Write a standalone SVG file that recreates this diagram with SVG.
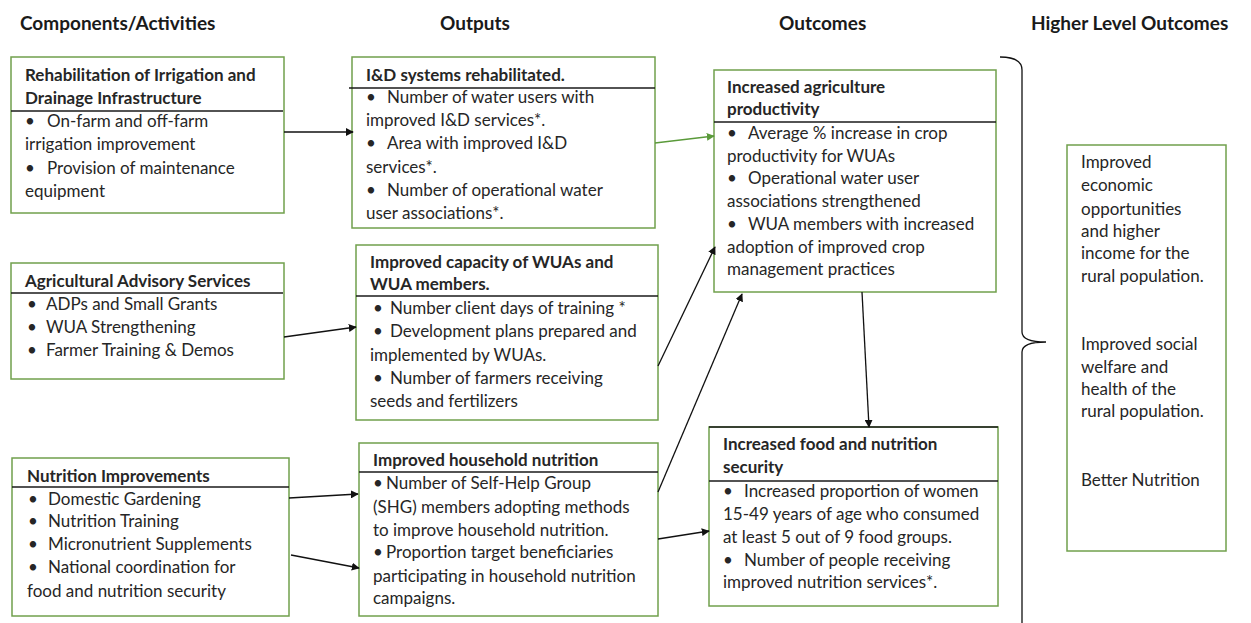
<svg xmlns="http://www.w3.org/2000/svg" width="1251" height="623" viewBox="0 0 1251 623">
<defs>
<style>
text{font-family:Lato,"Liberation Sans",sans-serif;font-size:17px;fill:#262626}
.h{font-weight:bold;font-size:19px;fill:#1a1a1a}
.b{font-weight:bold}
.box{fill:#fff;stroke:#70a04c;stroke-width:1.5}
.sep{stroke:#1a1a1a;stroke-width:1.3}
.c{stroke:#111;stroke-width:1.3;fill:none;marker-end:url(#ah)}
.g{stroke:#5a9a3a;stroke-width:1.3;fill:none;marker-end:url(#ahg)}
</style>
<marker id="ah" viewBox="0 0 10 10" refX="9" refY="5" markerWidth="8" markerHeight="8" markerUnits="userSpaceOnUse" orient="auto"><path d="M0,0 L10,5 L0,10 z" fill="#111"/></marker>
<marker id="ahg" viewBox="0 0 10 10" refX="9" refY="5" markerWidth="8" markerHeight="8" markerUnits="userSpaceOnUse" orient="auto"><path d="M0,0 L10,5 L0,10 z" fill="#5a9a3a"/></marker>
</defs>
<rect width="1251" height="623" fill="#fff"/>
<g id="headers">
<text class="h" x="20" y="30">Components/Activities</text>
<text class="h" x="440" y="30">Outputs</text>
<text class="h" x="779" y="30">Outcomes</text>
<text class="h" x="1031" y="30">Higher Level Outcomes</text>
</g>
<g id="a1">
<rect class="box" x="11" y="57" width="273" height="156"/>
<line class="sep" x1="11" y1="111" x2="283" y2="111"/>
<text class="b" x="25" y="81">Rehabilitation of Irrigation and</text>
<text class="b" x="25" y="104">Drainage Infrastructure</text>
<text x="25" y="127">•<tspan x="47">On-farm and off-farm</tspan></text>
<text x="25" y="150">irrigation improvement</text>
<text x="25" y="174">•<tspan x="47">Provision of maintenance</tspan></text>
<text x="25" y="197">equipment</text>
</g>
<g id="a2">
<rect class="box" x="11" y="263" width="273" height="116"/>
<line class="sep" x1="11" y1="293" x2="283" y2="293"/>
<text class="b" x="25" y="287">Agricultural Advisory Services</text>
<text x="27" y="310">•<tspan x="46">ADPs and Small Grants</tspan></text>
<text x="27" y="333">•<tspan x="46">WUA Strengthening</tspan></text>
<text x="27" y="356">•<tspan x="46">Farmer Training &amp; Demos</tspan></text>
</g>
<g id="a3">
<rect class="box" x="12" y="458" width="277" height="158"/>
<line class="sep" x1="12" y1="487" x2="289" y2="487"/>
<text class="b" x="27" y="482">Nutrition Improvements</text>
<text x="28" y="505">•<tspan x="48">Domestic Gardening</tspan></text>
<text x="28" y="527">•<tspan x="48">Nutrition Training</tspan></text>
<text x="28" y="550">•<tspan x="48">Micronutrient Supplements</tspan></text>
<text x="28" y="573">•<tspan x="48">National coordination for</tspan></text>
<text x="27" y="597">food and nutrition security</text>
</g>
<g id="o1">
<rect class="box" x="352" y="57" width="303" height="171"/>
<line class="sep" x1="349" y1="88" x2="655" y2="88"/>
<text class="b" x="366" y="81">I&amp;D systems rehabilitated.</text>
<text x="366" y="103">•<tspan x="387">Number of water users with</tspan></text>
<text x="366" y="126">improved I&amp;D services*.</text>
<text x="366" y="149">•<tspan x="387">Area with improved I&amp;D</tspan></text>
<text x="366" y="173">services*.</text>
<text x="366" y="196">•<tspan x="387">Number of operational water</tspan></text>
<text x="366" y="219">user associations*.</text>
</g>
<g id="o2">
<rect class="box" x="356" y="245" width="302" height="175"/>
<line class="sep" x1="356" y1="296" x2="658" y2="296"/>
<text class="b" x="370" y="268">Improved capacity of WUAs and</text>
<text class="b" x="370" y="290">WUA members.</text>
<text x="373" y="314">•<tspan x="390">Number client days of training *</tspan></text>
<text x="373" y="337">•<tspan x="390">Development plans prepared and</tspan></text>
<text x="370" y="361">implemented by WUAs.</text>
<text x="373" y="384">•<tspan x="390">Number of farmers receiving</tspan></text>
<text x="370" y="407">seeds and fertilizers</text>
</g>
<g id="o3">
<rect class="box" x="359" y="443" width="299" height="173"/>
<line class="sep" x1="359" y1="472" x2="658" y2="472"/>
<text class="b" x="373" y="466">Improved household nutrition</text>
<text x="373" y="489">•<tspan x="386">Number of Self-Help Group</tspan></text>
<text x="373" y="513">(SHG) members adopting methods</text>
<text x="373" y="536">to improve household nutrition.</text>
<text x="373" y="558">•<tspan x="386">Proportion target beneficiaries</tspan></text>
<text x="373" y="582">participating in household nutrition</text>
<text x="373" y="604">campaigns.</text>
</g>
<g id="c1">
<rect class="box" x="714" y="70" width="282" height="222"/>
<line class="sep" x1="714" y1="122" x2="996" y2="122"/>
<text class="b" x="727" y="93">Increased agriculture</text>
<text class="b" x="727" y="115">productivity</text>
<text x="727" y="139">•<tspan x="748">Average % increase in crop</tspan></text>
<text x="727" y="162">productivity for WUAs</text>
<text x="727" y="184">•<tspan x="748">Operational water user</tspan></text>
<text x="727" y="207">associations strengthened</text>
<text x="727" y="230">•<tspan x="748">WUA members with increased</tspan></text>
<text x="727" y="253">adoption of improved crop</text>
<text x="727" y="275">management practices</text>
</g>
<g id="c2">
<rect class="box" x="709" y="427" width="289" height="179"/>
<line class="sep" x1="709" y1="427" x2="998" y2="427"/>
<line class="sep" x1="709" y1="481" x2="998" y2="481"/>
<text class="b" x="723" y="450">Increased food and nutrition</text>
<text class="b" x="723" y="473">security</text>
<text x="723" y="497">•<tspan x="744">Increased proportion of women</tspan></text>
<text x="723" y="520">15-49 years of age who consumed</text>
<text x="723" y="543">at least 5 out of 9 food groups.</text>
<text x="723" y="566">•<tspan x="744">Number of people receiving</tspan></text>
<text x="723" y="588">improved nutrition services*.</text>
</g>
<g id="h1">
<rect class="box" x="1067" y="145" width="159" height="406"/>
<text x="1081" y="168">Improved</text>
<text x="1081" y="191">economic</text>
<text x="1081" y="215">opportunities</text>
<text x="1081" y="237">and higher</text>
<text x="1081" y="259">income for the</text>
<text x="1081" y="282">rural population.</text>
<text x="1081" y="350">Improved social</text>
<text x="1081" y="373">welfare and</text>
<text x="1081" y="395">health of the</text>
<text x="1081" y="417">rural population.</text>
<text x="1081" y="486">Better Nutrition</text>
</g>
<g id="brace">
<path d="M1000,57 Q1022,57 1022,70 L1022,332 Q1022,342 1046,342 Q1022,342 1022,352 L1022,625" fill="none" stroke="#111" stroke-width="1.3"/>
</g>
<g id="connectors">
<line class="c" x1="284" y1="132" x2="353" y2="132"/>
<line class="g" x1="655" y1="143" x2="714" y2="136"/>
<line class="c" x1="284" y1="337" x2="356" y2="327"/>
<line class="c" x1="658" y1="366" x2="715" y2="247"/>
<line class="c" x1="658" y1="492" x2="742" y2="294"/>
<line class="c" x1="862" y1="292" x2="869" y2="427"/>
<line class="c" x1="289" y1="498" x2="358" y2="494"/>
<line class="c" x1="291" y1="555" x2="359" y2="568"/>
<line class="c" x1="658" y1="539" x2="709" y2="531"/>
</g>
</svg>
